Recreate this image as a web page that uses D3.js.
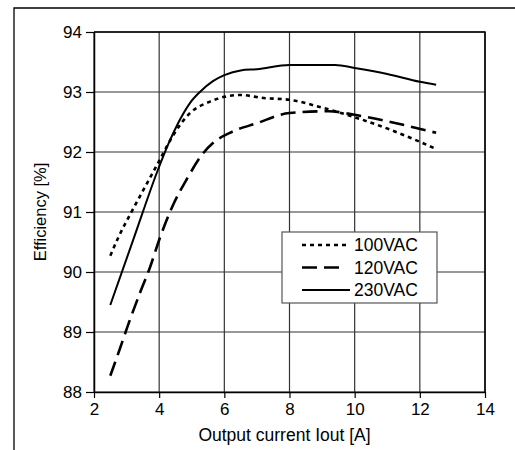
<!DOCTYPE html>
<html lang="en">
<head>
    <meta charset="UTF-8">
    <title>Efficiency vs Output current</title>
    <script src="https://d3js.org/d3.v7.min.js"></script>
    <style>
        body { margin: 0; background: #fff; }
        svg text { font-family: "Liberation Sans", Arial, sans-serif; fill: #000; }
    </style>
</head>
<body>
    <div id="chart"></div>
    <script>
        // data
        var seriesNames = ["100VAC", "120VAC", "230VAC"];
        var xTicks = [2, 4, 6, 8, 10, 12, 14];
        var yTicks = [88, 89, 90, 91, 92, 93, 94];

        var current100 = [2.5, 2.75, 3.1, 3.57, 3.97, 4.43, 4.95, 5.56, 6.0, 6.5, 7.2, 8.0, 9.0, 10.0, 11.1, 12.0, 12.5];
        var eff100 =     [90.27, 90.58, 90.95, 91.42, 91.82, 92.28, 92.65, 92.84, 92.92, 92.95, 92.9, 92.87, 92.74, 92.58, 92.37, 92.17, 92.05];

        var current120 = [2.5, 2.8, 3.1, 3.41, 3.72, 4.03, 4.43, 4.85, 5.35, 5.65, 6.17, 7.0, 8.0, 9.2, 10.0, 11.1, 12.5];
        var eff120 =     [88.27, 88.73, 89.2, 89.65, 90.08, 90.58, 91.12, 91.55, 91.98, 92.15, 92.32, 92.48, 92.65, 92.68, 92.62, 92.5, 92.32];

        var current230 = [2.5, 3.2, 3.96, 4.27, 4.58, 4.95, 5.25, 5.65, 6.0, 6.5, 7.0, 8.0, 9.4, 10.0, 11.0, 12.0, 12.5];
        var eff230 =     [89.45, 90.53, 91.7, 92.12, 92.48, 92.82, 93.0, 93.18, 93.28, 93.36, 93.38, 93.45, 93.45, 93.4, 93.3, 93.17, 93.12];

        var margin = { top: 32, left: 94 },
            width = 485 - margin.left,
            height = 392 - margin.top;

        var svg = d3.select("#chart")
            .append("svg")
            .attr("width", 515)
            .attr("height", 450);

        // outer frame (clipped at right/bottom like the source)
        svg.append("path")
            .attr("d", "M14,450 L14,8 L515,8")
            .attr("fill", "none")
            .attr("stroke", "#000")
            .attr("stroke-width", 1.3);

        var g = svg.append("g")
            .attr("transform", "translate(" + margin.left + "," + margin.top + ")");

        var x = d3.scaleLinear().domain([2, 14]).range([0, width]);
        var y = d3.scaleLinear().domain([88, 94]).range([height, 0]);

        // grid
        g.selectAll(".vgrid")
            .data(xTicks)
            .enter().append("line")
            .attr("x1", function(d) { return x(d); })
            .attr("x2", function(d) { return x(d); })
            .attr("y1", 0)
            .attr("y2", height)
            .attr("stroke", "#333")
            .attr("stroke-width", 1.2);

        g.selectAll(".hgrid")
            .data(yTicks)
            .enter().append("line")
            .attr("x1", 0)
            .attr("x2", width)
            .attr("y1", function(d) { return y(d); })
            .attr("y2", function(d) { return y(d); })
            .attr("stroke", "#333")
            .attr("stroke-width", 1.2);

        // axes
        var xAxis = g.append("g")
            .attr("transform", "translate(0," + height + ")")
            .call(d3.axisBottom(x).tickValues(xTicks).tickSize(6).tickSizeOuter(0).tickPadding(5));
        var yAxis = g.append("g")
            .call(d3.axisLeft(y).tickValues(yTicks).tickFormat(d3.format("d")).tickSize(8).tickSizeOuter(0).tickPadding(4));

        [xAxis, yAxis].forEach(function(a) {
            a.select(".domain").attr("stroke", "#000").attr("stroke-width", 1.5);
            a.selectAll(".tick line").attr("stroke", "#000").attr("stroke-width", 1.2);
            a.selectAll(".tick text").style("font-size", "17px").attr("fill", "#000");
        });

        // border top/right
        g.append("path")
            .attr("d", "M0,0 H" + width + " V" + height)
            .attr("fill", "none")
            .attr("stroke", "#000")
            .attr("stroke-width", 1.5);

        // axis titles
        g.append("text")
            .attr("x", width / 2 - 5)
            .attr("y", height + 49)
            .attr("text-anchor", "middle")
            .style("font-size", "17.5px")
            .text("Output current Iout [A]");

        g.append("text")
            .attr("transform", "translate(-48," + (height / 2) + ") rotate(-90)")
            .attr("text-anchor", "middle")
            .style("font-size", "16.5px")
            .text("Efficiency [%]");

        var dashes = { "100VAC": "4,4", "120VAC": "15,7", "230VAC": null };
        var widths = { "100VAC": 2.6, "120VAC": 2.6, "230VAC": 2 };

        var series = [
            { name: "100VAC", values: current100.map(function(c, i) { return { x: c, y: eff100[i] }; }) },
            { name: "120VAC", values: current120.map(function(c, i) { return { x: c, y: eff120[i] }; }) },
            { name: "230VAC", values: current230.map(function(c, i) { return { x: c, y: eff230[i] }; }) }
        ];

        var line = d3.line()
            .curve(d3.curveMonotoneX)
            .x(function(d) { return x(d.x); })
            .y(function(d) { return y(d.y); });

        // legend box
        var legend = g.append("g")
            .attr("transform", "translate(" + (282 - margin.left) + "," + (232 - margin.top) + ")");

        legend.append("rect")
            .attr("width", 155)
            .attr("height", 71)
            .attr("fill", "#fff")
            .attr("stroke", "#555")
            .attr("stroke-width", 1.2);

        var rows = legend.selectAll(".legend-row")
            .data(seriesNames)
            .enter().append("g")
            .attr("transform", function(d, i) { return "translate(0," + (13 + i * 22.5) + ")"; });

        rows.append("line")
            .attr("x1", 20)
            .attr("x2", function(d) { return d === "120VAC" ? 64 : 68; })
            .attr("y1", 0)
            .attr("y2", 0)
            .attr("stroke", "#000")
            .attr("stroke-width", function(d) { return widths[d]; })
            .attr("stroke-dasharray", function(d) { return dashes[d]; });

        rows.append("text")
            .attr("x", 72)
            .attr("y", 6)
            .style("font-size", "17.5px")
            .text(function(d) { return d; });

        g.selectAll(".series")
            .data(series)
            .enter().append("path")
            .attr("d", function(d) { return line(d.values); })
            .attr("fill", "none")
            .attr("stroke", "#000")
            .attr("stroke-width", function(d) { return widths[d.name]; })
            .attr("stroke-dasharray", function(d) { return dashes[d.name]; });
    </script>
</body>
</html>
